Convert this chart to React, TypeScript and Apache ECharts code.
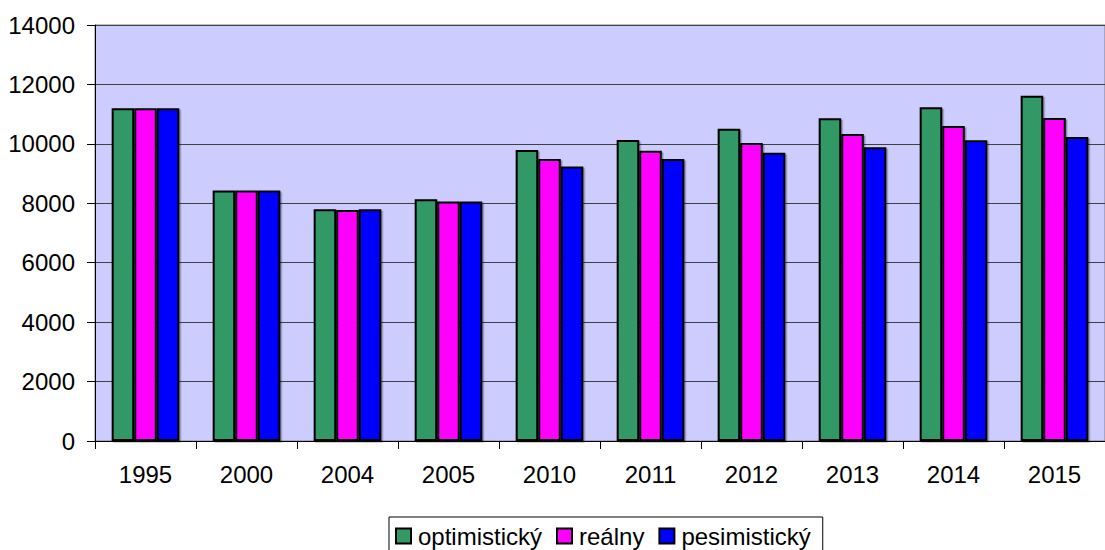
import React, { useEffect, useRef } from "react";
import * as echarts from "echarts";

const categories = ["1995", "2000", "2004", "2005", "2010", "2011", "2012", "2013", "2014", "2015"];
const optimisticky = [11200, 8430, 7800, 8140, 9790, 10130, 10510, 10860, 11230, 11620];
const realny = [11200, 8430, 7770, 8060, 9490, 9770, 10030, 10330, 10600, 10870];
const pesimisticky = [11200, 8430, 7800, 8060, 9240, 9490, 9700, 9890, 10120, 10230];
const seriesNames = ["optimistický", "reálny", "pesimistický"];
const colors = ["#339966", "#FF00FF", "#0000FF"];

const FONT = "'Liberation Sans', Arial, sans-serif";

export default function App() {
  const ref = useRef<HTMLDivElement>(null);
  useEffect(() => {
    if (!ref.current) return;
    const chart = echarts.init(ref.current, undefined, { renderer: "svg" });
    const data = [optimisticky, realny, pesimisticky];
    chart.setOption({
      animation: false,
      textStyle: { fontFamily: FONT },
      grid: {
        left: 95,
        top: 25,
        width: 1022,
        height: 416,
        show: true,
        backgroundColor: "#CCCCFF",
        borderColor: "#808080",
        borderWidth: 1,
      },
      legend: {
        left: 389,
        top: 517,
        padding: [7, 12, 8, 6],
        borderColor: "#000",
        borderWidth: 1,
        backgroundColor: "#fff",
        itemWidth: 15,
        itemHeight: 15,
        itemGap: 14,
        icon: "rect",
        textStyle: { fontSize: 24, color: "#000", fontFamily: FONT, padding: [0, 0, 0, 2] },
        data: seriesNames,
      },
      xAxis: {
        type: "category",
        data: categories,
        axisLine: { lineStyle: { color: "#000", width: 1 } },
        axisTick: { show: true, length: 8, lineStyle: { color: "#000" } },
        axisLabel: { fontSize: 24, color: "#000", margin: 21, fontFamily: FONT },
      },
      yAxis: {
        type: "value",
        min: 0,
        max: 14000,
        interval: 2000,
        axisLine: { show: true, lineStyle: { color: "#000", width: 1 } },
        axisTick: { show: true, length: 8, lineStyle: { color: "#000" } },
        axisLabel: {
          fontSize: 24,
          color: "#000",
          margin: 20,
          fontFamily: FONT,
          formatter: (v: number) => String(v),
        },
        splitLine: { show: true, lineStyle: { color: "#404040", width: 1 } },
      },
      series: seriesNames.map((name, i) => ({
        name,
        type: "bar",
        data: data[i],
        barGap: "0%",
        barCategoryGap: "33%",
        itemStyle: {
          color: colors[i],
          borderColor: "#000",
          borderWidth: 2,
          shadowColor: "rgba(0,0,0,0.35)",
          shadowOffsetX: 1.5,
          shadowOffsetY: 1.5,
          shadowBlur: 1,
        },
      })),
    });
    return () => chart.dispose();
  }, []);
  return <div ref={ref} style={{ width: 1105, height: 550, position: "absolute", left: 0, top: 0 }} />;
}
